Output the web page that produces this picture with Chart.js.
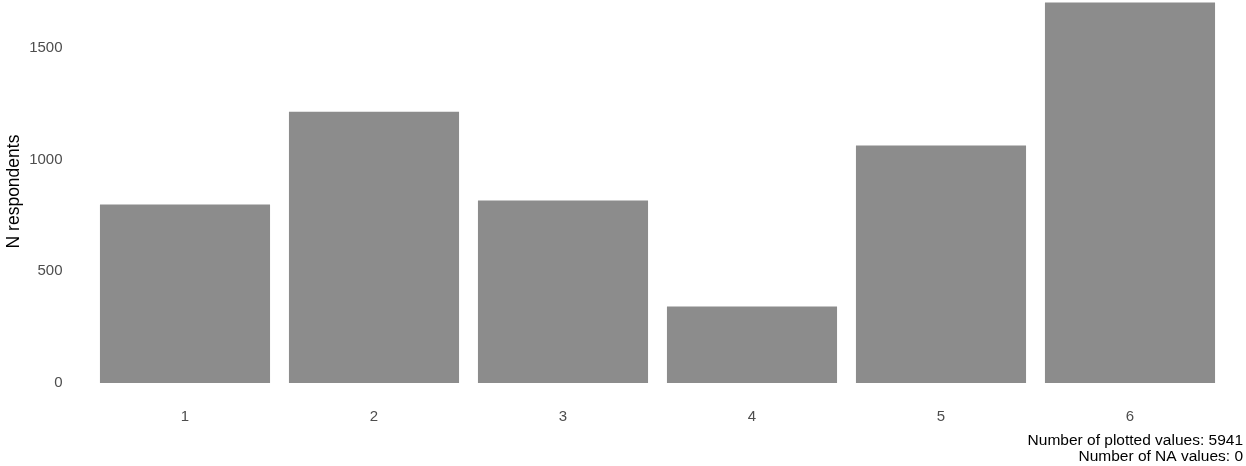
<!DOCTYPE html>
<html>
<head>
<meta charset="utf-8">
<script src="https://cdn.jsdelivr.net/npm/chart.js@4"></script>
<style>
  html, body { margin: 0; padding: 0; background: #fff; }
  #wrap { width: 1246px; height: 466px; position: relative; }
</style>
</head>
<body>
<div id="wrap"><canvas id="barChart"></canvas></div>
<script>
// valeurs
const categories = ['1', '2', '3', '4', '5', '6'];
const respondents = [799, 1215, 817, 343, 1063, 1704];
const yTicks = [0, 500, 1000, 1500];
const captionLines = ['Number of plotted values: 5941', 'Number of NA values: 0'];

Chart.defaults.animation = false;
Chart.defaults.font.family = '"Liberation Sans", Arial, sans-serif';

// caption en bas à droite, façon ggplot
const captionPlugin = {
  id: 'caption',
  afterDraw(chart) {
    const ctx = chart.ctx;
    ctx.save();
    ctx.font = '15.5px "Liberation Sans", Arial, sans-serif';
    ctx.fillStyle = '#000';
    ctx.textAlign = 'right';
    ctx.textBaseline = 'middle';
    const x = chart.width - 3;
    const y0 = chart.chartArea.bottom + 58;
    captionLines.forEach((line, i) => ctx.fillText(line, x, y0 + i * 16));
    ctx.restore();
  }
};

const ctx = document.getElementById('barChart').getContext('2d');
new Chart(ctx, {
  type: 'bar',
  data: {
    labels: categories,
    datasets: [{
      data: respondents,
      backgroundColor: '#8c8c8c',
      borderWidth: 0,
      categoryPercentage: 0.9,
      barPercentage: 1
    }]
  },
  options: {
    responsive: true,
    maintainAspectRatio: false,
    animation: false,
    layout: { autoPadding: false, padding: { top: 0, right: 21.5, bottom: 15, left: 0 } },
    scales: {
      x: {
        grid: { display: false, drawTicks: false },
        border: { display: false },
        ticks: { color: '#4d4d4d', font: { size: 15 }, padding: 25 }
      },
      y: {
        min: 0,
        max: 1715,
        grid: { display: false, drawTicks: false },
        border: { display: false },
        ticks: {
          color: '#4d4d4d',
          font: { size: 15 },
          padding: 28,
          callback: v => String(v)
        },
        afterBuildTicks(scale) {
          scale.ticks = yTicks.map(v => ({ value: v }));
        },
        afterFit(scale) {
          scale.width = 90.5;
          scale.paddingTop = 0;
          scale.paddingBottom = 0;
        },
        title: {
          display: true,
          text: 'N respondents',
          color: '#000',
          font: { size: 17.5 },
          padding: { top: 4, bottom: 0 }
        }
      }
    },
    plugins: {
      legend: { display: false },
      tooltip: { enabled: false }
    }
  },
  plugins: [captionPlugin]
});
</script>
</body>
</html>
